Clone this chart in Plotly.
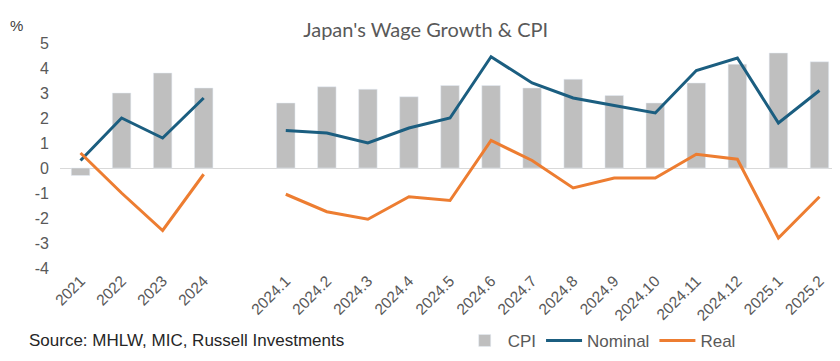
import plotly.graph_objects as go

categories = ["2021", "2022", "2023", "2024", " ",
              "2024.1", "2024.2", "2024.3", "2024.4", "2024.5", "2024.6", "2024.7",
              "2024.8", "2024.9", "2024.10", "2024.11", "2024.12", "2025.1", "2025.2"]
cpi = [-0.3, 3.0, 3.8, 3.2, None,
       2.6, 3.25, 3.15, 2.85, 3.3, 3.3, 3.2, 3.55, 2.9, 2.6, 3.4, 4.15, 4.6, 4.25]
nominal = [0.3, 2.0, 1.2, 2.8, None,
           1.5, 1.4, 1.0, 1.6, 2.0, 4.45, 3.4, 2.8, 2.5, 2.2, 3.9, 4.4, 1.8, 3.1]
real = [0.6, -1.0, -2.5, -0.25, None,
        -1.05, -1.75, -2.05, -1.15, -1.3, 1.1, 0.3, -0.8, -0.4, -0.4, 0.55, 0.35, -2.8, -1.15]
y_ticks = [-4, -3, -2, -1, 0, 1, 2, 3, 4, 5]
y_tick_text = ["-4", "-3", "-2", "-1", "0", "1", "2", "3", "4", "5"]

fig = go.Figure()
fig.add_trace(go.Bar(x=categories, y=cpi, name="CPI", marker_color="#BFBFBF",
                     width=0.45))
fig.add_trace(go.Scatter(x=categories, y=nominal, name="Nominal", mode="lines",
                         line=dict(color="#1B5E80", width=3)))
fig.add_trace(go.Scatter(x=categories, y=real, name="Real", mode="lines",
                         line=dict(color="#ED7D31", width=3)))

fig.update_layout(
    width=832, height=353,
    margin=dict(l=52, r=0, t=35, b=93),
    plot_bgcolor="white", paper_bgcolor="white",
    font=dict(family="Liberation Sans, Arial, sans-serif", color="#595959", size=14),
    title=dict(text="Japan's Wage Growth & CPI", x=0.502, xanchor="center",
               y=0.938, yanchor="middle",
               font=dict(family="Lato, sans-serif", size=20, color="#595959")),
    showlegend=True,
    legend=dict(orientation="h", x=0.515, xanchor="left", y=-0.324, yanchor="middle",
                font=dict(size=17, color="#595959"), itemwidth=36,
                bgcolor="rgba(0,0,0,0)", tracegroupgap=0),
    bargap=0.55,
)
fig.update_xaxes(type="category", tickangle=-45, showgrid=False, showline=False,
                 ticks="", tickfont=dict(size=15.5, color="#595959"))
fig.update_yaxes(range=[-4, 5], tickvals=y_ticks, ticktext=y_tick_text, showgrid=False,
                 zeroline=True, zerolinecolor="#D9D9D9", zerolinewidth=1, showline=False,
                 tickfont=dict(size=16, color="#595959"), ticklabelstandoff=10)

fig.add_annotation(text="%", xref="paper", yref="paper", x=-0.0667, y=1.0756,
                   xanchor="left", yanchor="middle", showarrow=False,
                   font=dict(size=15, color="#404040"))
fig.add_annotation(text="Source: MHLW, MIC, Russell Investments", xref="paper", yref="paper",
                   x=-0.0423, y=-0.324, xanchor="left", yanchor="middle", showarrow=False,
                   font=dict(size=17, color="#262626"))

fig.write_html("out.html")
